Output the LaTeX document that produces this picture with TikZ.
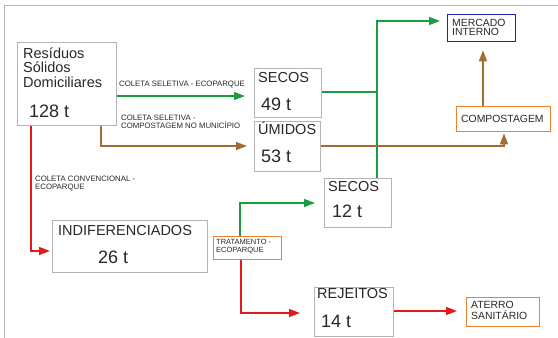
\documentclass[tikz,border=0pt]{standalone}
\usepackage{fontspec}
\setmainfont{Liberation Sans}
\usetikzlibrary{arrows.meta}
\definecolor{vgreen}{RGB}{28,156,64}
\definecolor{vbrown}{RGB}{160,110,52}
\definecolor{vred}{RGB}{226,26,26}
\definecolor{vorange}{RGB}{234,130,50}
\definecolor{vblue}{RGB}{32,32,172}
\definecolor{vgray}{RGB}{180,180,180}
\definecolor{vtext}{RGB}{40,40,40}
\tikzset{
  box/.style     = {draw=vgray, line width=0.9pt, anchor=north west, inner sep=0pt},
  obox/.style    = {box, draw=vorange, line width=1.3pt},
  bbox/.style    = {box, draw=vblue, line width=1.3pt},
  txt/.style     = {anchor=base west, inner sep=0pt, text=vtext, align=left},
  bigtxt/.style  = {txt, font=\fontsize{14.5}{14.5}\selectfont},
  numtxt/.style  = {txt, font=\fontsize{18}{18}\selectfont},
  smalltxt/.style= {txt, font=\fontsize{10.4}{9}\selectfont},
  tinytxt/.style = {txt, font=\fontsize{7.8}{8}\selectfont},
  flow/.style    = {line width=1.4pt, -{Triangle[length=11pt,width=8pt]}},
  gline/.style   = {flow, draw=vgreen, color=vgreen},
  bline/.style   = {flow, draw=vbrown, color=vbrown},
  rline/.style   = {flow, draw=vred, color=vred}
}
\begin{document}
\begin{tikzpicture}[x=1pt, y=-1pt]
\useasboundingbox (0,0) rectangle (558,338);
\fill[white] (0,0) rectangle (558,338);
\draw[vgray, line width=0.8pt] (558,5) -- (4,5) -- (4,338);

% boxes
\node[box, minimum width=99pt, minimum height=83pt] (rsd) at (17,42) {};
\node[box, minimum width=67pt, minimum height=49pt] (secA) at (254,68) {};
\node[box, minimum width=66pt, minimum height=50pt] (umid) at (254,121) {};
\node[box, minimum width=67pt, minimum height=49pt] (secB) at (324,178) {};
\node[box, minimum width=155pt, minimum height=52pt] (indif) at (52,220) {};
\node[box, minimum width=79pt, minimum height=49pt] (rej) at (314,287) {};
\node[obox, minimum width=68pt, minimum height=23pt] (trat) at (213,236) {};
\node[obox, minimum width=94pt, minimum height=25pt] (comp) at (456,106) {};
\node[bbox, minimum width=68pt, minimum height=27pt] (merc) at (447,14) {};
\node[obox, minimum width=73pt, minimum height=29pt] (aterro) at (466,297) {};

% texts (multi-line ones sit on their last line)
\node[bigtxt] (rsd-name) at (23,87) {Resíduos\\Sólidos\\Domiciliares};
\node[numtxt] (rsd-qty) at (29,117) {128 t};
\node[bigtxt] (secA-name) at (258,82) {SECOS};
\node[numtxt] (secA-qty) at (261,110) {49 t};
\node[bigtxt] (umid-name) at (258,134) {ÚMIDOS};
\node[numtxt] (umid-qty) at (261,162) {53 t};
\node[bigtxt] (secB-name) at (328,191) {SECOS};
\node[numtxt] (secB-qty) at (332,217) {12 t};
\node[bigtxt] (indif-name) at (58,235) {INDIFERENCIADOS};
\node[numtxt] (indif-qty) at (98,263) {26 t};
\node[bigtxt] (rej-name) at (317,298) {REJEITOS};
\node[numtxt] (rej-qty) at (321,327) {14 t};
\node[smalltxt] (merc-name) at (452,35) {MERCADO\\INTERNO};
\node[smalltxt] (comp-name) at (461,122) {COMPOSTAGEM};
\node[smalltxt] (aterro-name) at (471,319) {ATERRO\\SANITÁRIO};
\node[tinytxt, font=\fontsize{7.5}{8}\selectfont] (trat-name) at (216,252) {TRATAMENTO -\\ECOPARQUE};
\node[tinytxt] (lbl-eco) at (119,86) {COLETA SELETIVA - ECOPARQUE};
\node[tinytxt] (lbl-comp) at (121,128) {COLETA SELETIVA -\\COMPOSTAGEM NO MUNICÍPIO};
\node[tinytxt] (lbl-conv) at (35,189) {COLETA CONVENCIONAL -\\ECOPARQUE};

% connectors
\coordinate (g1) at (0,96);
\coordinate (b1) at (101,146);
\coordinate (r1) at (31,251);
\coordinate (g2) at (377,92);
\coordinate (g3) at (377,21);
\coordinate (b2) at (504,146);
\coordinate (b3) at (483,106);
\coordinate (g4) at (240,203);
\coordinate (r2) at (241,313);
\coordinate (r3) at (0,311);

\draw[gline, shorten >=9pt] (rsd.east |- g1) -- (secA.west |- g1);
\draw[bline, shorten >=7pt] (rsd.south -| b1) -- (b1) -- (umid.west |- b1);
\draw[rline, shorten >=2pt] (rsd.south -| r1) -- (r1) -- (indif.west |- r1);
\draw[vgreen, line width=1.4pt] (secA.east |- g2) -- (g2);
\draw[gline, shorten >=7pt] (secB.north -| g3) -- (g3) -- (merc.west |- g3);
\draw[bline, shorten >=1pt] (umid.east |- b2) -- (b2) -- (comp.south -| b2);
\draw[bline, shorten >=8pt] (b3) -- (merc.south -| b3);
\draw[gline, shorten >=9pt] (trat.north -| g4) -- (g4) -- (secB.west |- g4);
\draw[rline, shorten >=14pt] (trat.south -| r2) -- (r2) -- (rej.west |- r2);
\draw[rline, shorten >=9pt] (rej.east |- r3) -- (aterro.west |- r3);
\end{tikzpicture}
\end{document}
